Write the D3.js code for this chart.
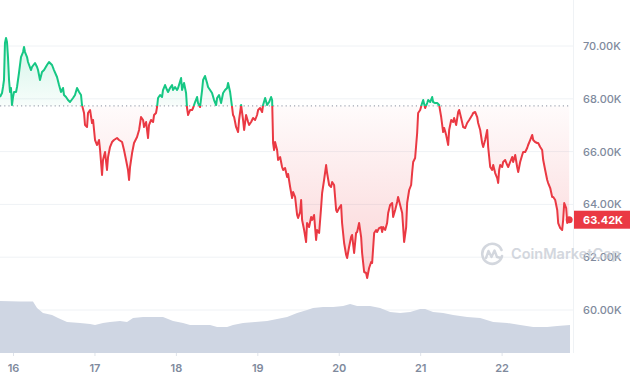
<!DOCTYPE html>
<html lang="en">
<head>
<meta charset="UTF-8" />
<title>BTC price - 7 days</title>
<script src="https://d3js.org/d3.v7.min.js"></script>
<style>
  body { margin: 0; background: #fff; font-family: Inter, "Noto Sans", sans-serif; }
  svg { display: block; }
</style>
</head>
<body>
<svg width="630" height="380"></svg>
<script>
  // time as day of March 2024 (fractional), price in USD
  const priceDays = [
    15.840,15.865,15.877,15.889,15.901,15.914,15.926,15.938,15.951,15.963,15.975,15.987,16.000,16.012,16.037,16.049,16.073,16.098,16.123,16.135,
    16.147,16.172,16.184,16.221,16.233,16.270,16.295,16.307,16.331,16.356,16.381,16.417,16.442,16.479,16.503,16.540,16.565,16.589,16.614,16.626,
    16.651,16.675,16.700,16.737,16.761,16.786,16.811,16.835,16.847,16.872,16.884,16.909,16.921,16.946,16.970,16.983,
    17.007,17.032,17.056,17.069,17.093,17.105,17.130,17.154,17.167,17.191,17.216,17.240,17.277,17.302,17.339,17.363,17.388,17.412,17.425,17.437,
    17.462,17.486,17.523,17.548,17.572,17.597,17.609,17.634,17.658,17.670,17.695,17.720,17.732,17.756,17.769,17.781,17.806,17.830,17.842,17.867,
    17.892,17.904,17.928,17.953,17.965,17.990,
    18.014,18.027,18.064,18.076,18.100,18.125,18.137,18.150,18.174,18.199,18.211,18.236,18.260,18.272,18.297,18.322,18.334,18.358,18.383,18.395,
    18.420,18.444,18.469,18.494,18.506,18.530,18.555,18.580,18.604,18.629,18.641,18.666,18.690,18.702,18.715,18.739,18.764,18.776,18.801,18.825,
    18.838,18.862,18.887,18.899,18.924,18.948,18.973,18.997,
    19.010,19.034,19.059,19.071,19.096,19.120,19.145,19.169,19.182,19.194,19.206,19.218,19.243,19.255,19.280,19.304,19.317,19.341,19.366,19.378,
    19.403,19.427,19.440,19.464,19.489,19.501,19.526,19.538,19.550,19.575,19.599,19.611,19.636,19.661,19.673,19.697,19.722,19.734,19.759,19.783,
    19.796,19.820,19.845,19.857,19.882,19.906,19.919,19.943,19.968,19.980,
    20.005,20.029,20.041,20.066,20.091,20.103,20.127,20.152,20.164,20.189,20.213,20.226,20.250,20.275,20.287,20.312,20.336,20.349,20.373,20.398,
    20.410,20.435,20.459,20.471,20.496,20.521,20.533,20.545,20.570,20.594,20.607,20.631,20.656,20.668,20.693,20.717,20.729,20.754,20.779,20.791,
    20.803,20.828,20.840,20.865,20.889,20.901,20.914,20.938,20.963,20.975,
    21.000,21.024,21.037,21.061,21.086,21.098,21.123,21.147,21.159,21.184,21.209,21.233,21.258,21.282,21.295,21.319,21.344,21.356,21.381,21.405,
    21.417,21.442,21.467,21.479,21.503,21.528,21.553,21.577,21.602,21.639,21.651,21.675,21.700,21.712,21.737,21.761,21.774,21.798,21.823,21.835,
    21.860,21.884,21.897,21.921,21.946,21.958,21.970,21.983,
    22.007,22.019,22.044,22.069,22.081,22.105,22.130,22.142,22.167,22.191,22.204,22.228,22.253,22.265,22.290,22.314,22.326,22.351,22.376,22.388,
    22.412,22.437,22.449,22.474,22.498,22.511,22.535,22.560,22.572,22.597,22.621,22.634,22.658,22.683,22.695,22.720,22.744,22.756,22.769,22.793,
    22.806,22.830
  ];
  const prices = [
    68068,68219,68447,68712,70113,70303,70151,69583,68712,68257,68409,67765,68068,68257,68257,68447,68977,69583,69772,69962,
    69772,69583,69394,69090,69204,69356,69204,69090,68712,69015,69090,69280,69394,69280,69090,68825,68522,68257,68409,68144,
    68068,67954,67878,68030,68144,68409,68257,68144,67765,67462,67007,66932,67462,67575,67083,67197,
    66439,66250,66439,66060,65113,65681,65984,65303,65795,66174,66363,66439,66515,66439,66363,66060,65681,65303,64924,65416,
    65946,66325,66553,66818,67310,67197,66932,67121,66515,67007,67197,67121,67386,67462,67689,68030,68144,68068,68333,68522,
    68333,68257,68409,68522,68333,68447,
    68333,68409,68787,68333,68598,68219,67651,67386,67575,67575,67651,67878,68068,67840,67689,68333,68712,68863,68598,68447,
    68333,68219,67954,67765,68030,68144,67840,68219,68333,68409,68598,68257,67689,67386,67310,66932,66742,67197,67765,67197,
    66818,67386,67121,67007,67121,67272,67197,67386,
    67575,67651,67500,67765,68030,67765,67878,68068,67954,66325,66060,66363,66060,65681,65795,65416,65303,65378,65037,65151,
    64659,64242,64469,64280,63598,63484,63712,64166,63409,63030,62575,63295,63143,63522,63409,63598,62651,63030,62916,63863,
    64431,64924,65492,65189,64735,64659,64848,64735,63787,63712,
    63863,63977,63295,62537,62083,61969,62386,62764,62840,62159,62916,62954,63295,62764,62159,61439,61401,61212,61591,61818,
    61780,62916,63030,62954,63105,63143,62954,63143,63030,63295,63674,63977,64052,63522,63787,64090,64280,63977,63674,63143,
    62575,63143,64052,64545,64735,65189,65606,65757,66704,67462,
    67575,67840,67954,67651,67840,67954,67878,68068,67878,67840,67840,67765,67310,66742,66894,66629,66250,66818,67197,67121,
    67272,67007,67500,67575,67272,66932,66894,67083,67197,67386,67462,67500,67310,67083,66818,66325,66174,66439,66818,66174,
    65416,65303,65492,65189,64999,64810,65303,65492,
    65416,65606,65681,65492,65416,65606,65795,65606,65871,65416,65227,65606,65871,65984,65984,66136,66250,66439,66629,66439,
    66363,66325,66325,66174,66060,65681,65303,64924,64810,64621,64280,64280,64166,63787,63295,63105,63030,63409,64052,63863,
    63295,63420
  ];

  // 24h volume, billions USD
  const volDays = [
    15.840,16.086,16.245,16.295,16.368,16.479,16.553,16.663,16.823,16.946,17.007,17.105,17.191,17.314,17.400,17.474,17.597,17.842,17.965,18.088,
    18.174,18.420,18.506,18.629,18.702,18.825,18.973,19.120,19.243,19.366,19.489,19.611,19.685,19.808,19.931,20.054,20.140,20.226,20.385,20.508,
    20.631,20.754,20.877,21.000,21.061,21.159,21.282,21.405,21.577,21.737,21.897,22.069,22.228,22.388,22.560,22.683,22.840
  ];
  const volumes = [
    49.5,49.0,49.0,42.9,38.1,36.2,33.3,29.5,28.6,27.6,26.7,28.6,29.5,30.5,29.5,33.3,34.3,34.3,30.5,28.6,
    26.7,26.7,24.8,24.8,26.7,28.6,29.5,30.5,32.4,34.3,38.1,41.0,42.9,43.8,43.8,44.8,46.7,44.8,44.8,42.9,
    39.0,38.1,39.0,41.9,41.9,39.0,38.1,36.2,34.3,33.3,29.5,28.6,26.7,24.8,24.8,25.7,26.7
  ];

  const yTicks = [60000, 62000, 64000, 66000, 68000, 70000];
  const dayTicks = [16, 17, 18, 19, 20, 21, 22];
  const openPrice = 67730;

  const green = "#16c784", red = "#ea3943", axisGrey = "#808a9d";
  const svg = d3.select("svg");
  const plotRight = 573;

  const toDate = d => new Date(Date.UTC(2024, 2, 1) + (d - 1) * 864e5);
  const x = d3.scaleUtc().domain([toDate(15.84), toDate(22.84)]).range([0, 570]);
  const y = d3.scaleLinear().domain([60000, 70000]).range([310, 46]);
  const yVol = d3.scaleLinear().domain([0, 60]).range([353, 290]);

  const series = priceDays.map((d, i) => ({ t: toDate(d), p: prices[i] }));
  const volSeries = volDays.map((d, i) => ({ t: toDate(d), v: volumes[i] }));
  const last = series[series.length - 1];
  const yOpen = y(openPrice);

  const defs = svg.append("defs");
  defs.append("clipPath").attr("id", "clip-up")
    .append("rect").attr("x", 0).attr("y", 0).attr("width", plotRight).attr("height", yOpen);
  defs.append("clipPath").attr("id", "clip-down")
    .append("rect").attr("x", 0).attr("y", yOpen).attr("width", plotRight).attr("height", 353 - yOpen);

  const gUp = defs.append("linearGradient").attr("id", "grad-up")
    .attr("gradientUnits", "userSpaceOnUse").attr("x1", 0).attr("x2", 0)
    .attr("y1", y(70300)).attr("y2", yOpen);
  gUp.append("stop").attr("offset", 0).attr("stop-color", green).attr("stop-opacity", 0.2);
  gUp.append("stop").attr("offset", 1).attr("stop-color", green).attr("stop-opacity", 0.03);

  const gDown = defs.append("linearGradient").attr("id", "grad-down")
    .attr("gradientUnits", "userSpaceOnUse").attr("x1", 0).attr("x2", 0)
    .attr("y1", yOpen).attr("y2", y(61200));
  gDown.append("stop").attr("offset", 0).attr("stop-color", red).attr("stop-opacity", 0.02);
  gDown.append("stop").attr("offset", 1).attr("stop-color", red).attr("stop-opacity", 0.22);

  // grid
  svg.append("g")
    .selectAll("line")
    .data(yTicks)
    .join("line")
    .attr("x1", 0).attr("x2", plotRight)
    .attr("y1", d => y(d)).attr("y2", d => y(d))
    .attr("stroke", "#eff2f5");

  svg.append("line")
    .attr("x1", plotRight + 0.5).attr("x2", plotRight + 0.5)
    .attr("y1", 0).attr("y2", 353)
    .attr("stroke", "#eff2f5");

  // volume
  svg.append("path")
    .datum(volSeries)
    .attr("fill", "#cfd6e3")
    .attr("d", d3.area().x(d => x(d.t)).y0(yVol(0)).y1(d => yVol(d.v)));

  // price fill
  const area = d3.area().x(d => x(d.t)).y0(yOpen).y1(d => y(d.p));
  svg.append("path").datum(series).attr("clip-path", "url(#clip-up)")
    .attr("fill", "url(#grad-up)").attr("d", area);
  svg.append("path").datum(series).attr("clip-path", "url(#clip-down)")
    .attr("fill", "url(#grad-down)").attr("d", area);

  // opening price dotted line
  svg.append("line")
    .attr("x1", 0).attr("x2", plotRight - 2)
    .attr("y1", yOpen).attr("y2", yOpen)
    .attr("stroke", "#a1a7b3")
    .attr("stroke-width", 1.2)
    .attr("stroke-dasharray", "1.2,3");

  // price line
  const line = d3.line().x(d => x(d.t)).y(d => y(d.p));
  [["clip-up", green], ["clip-down", red]].forEach(([clip, col]) => {
    svg.append("path").datum(series)
      .attr("clip-path", `url(#${clip})`)
      .attr("fill", "none")
      .attr("stroke", col)
      .attr("stroke-width", 2)
      .attr("stroke-linejoin", "round")
      .attr("d", line);
  });

  svg.append("circle")
    .attr("cx", x(last.t)).attr("cy", y(last.p)).attr("r", 3.5)
    .attr("fill", red);

  // axes
  const xAxis = svg.append("g")
    .attr("transform", "translate(0,353)")
    .call(d3.axisBottom(x)
      .tickValues(dayTicks.map(toDate))
      .tickFormat(d3.utcFormat("%-d"))
      .tickSize(3)
      .tickPadding(8));
  xAxis.select(".domain").remove();
  xAxis.selectAll("line").attr("stroke", "#dfe3ea");
  xAxis.selectAll("text")
    .attr("fill", axisGrey)
    .style("font", "600 11px Inter, sans-serif");

  const yAxis = svg.append("g")
    .attr("transform", "translate(583,0)")
    .call(d3.axisRight(y)
      .tickValues(yTicks)
      .tickSize(0)
      .tickPadding(0)
      .tickFormat(d => (d / 1000).toFixed(2) + "K"));
  yAxis.select(".domain").remove();
  yAxis.selectAll("text")
    .attr("fill", axisGrey)
    .style("font", "500 11px Inter, sans-serif");

  // current price tag
  const tag = svg.append("g").attr("transform", `translate(574,${y(last.p)})`);
  tag.append("rect").attr("x", 0).attr("y", -9).attr("width", 56).attr("height", 18).attr("fill", red);
  tag.append("text").attr("x", 9).attr("dy", "0.36em")
    .attr("fill", "#fff")
    .style("font", "700 11px Inter, sans-serif")
    .text((last.p / 1000).toFixed(2) + "K");

  // watermark
  const wm = svg.append("g").attr("transform", "translate(492,254)").attr("opacity", 0.75);
  wm.append("path")
    .attr("d", "M 9.5 -4 A 10 10 0 1 0 10 2")
    .attr("fill", "none").attr("stroke", "#c5cad3").attr("stroke-width", 2.6).attr("stroke-linecap", "round");
  wm.append("path")
    .attr("d", "M -6 4 L -3.5 -3 L -0.5 3 L 2.5 -3.5 L 5 3 L 9 4")
    .attr("fill", "none").attr("stroke", "#c5cad3").attr("stroke-width", 2.4)
    .attr("stroke-linejoin", "round").attr("stroke-linecap", "round");
  wm.append("text")
    .attr("x", 19).attr("dy", "0.36em")
    .attr("fill", "#c5cad3")
    .style("font", "600 14.5px Inter, sans-serif")
    .text("CoinMarketCap");
</script>
</body>
</html>
